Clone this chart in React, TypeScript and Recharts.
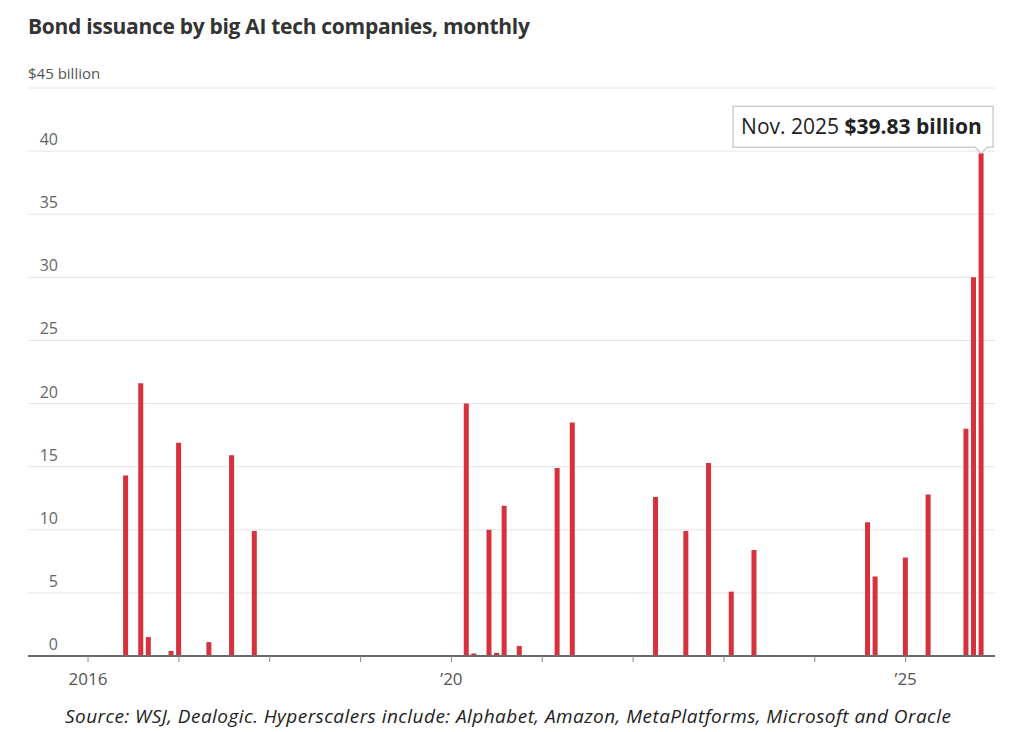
import { BarChart, Bar, XAxis, YAxis, CartesianGrid, LabelList } from "recharts";

// months with any issuance (others are zero)
const issueMonths = [
  "2016-06", "2016-08", "2016-09", "2016-12", "2017-01", "2017-05", "2017-08", "2017-11",
  "2020-03", "2020-04", "2020-06", "2020-07", "2020-08", "2020-10", "2021-03", "2021-05",
  "2022-04", "2022-08", "2022-11", "2023-02", "2023-05",
  "2024-08", "2024-09", "2025-01", "2025-04", "2025-09", "2025-10", "2025-11",
];
const amounts = [
  14.3, 21.6, 1.5, 0.4, 16.9, 1.1, 15.9, 9.9,
  20.0, 0.2, 10.0, 0.25, 11.9, 0.8, 14.9, 18.5,
  12.6, 9.9, 15.3, 5.1, 8.4,
  10.6, 6.3, 7.8, 12.8, 18.0, 30.0, 39.83,
];

const yTicks = [0, 5, 10, 15, 20, 25, 30, 35, 40, 45];
const yearTicks = [0, 12, 24, 36, 48, 60, 72, 84, 96, 108];
const yearLabels: Record<number, string> = { 0: "2016", 48: "\u201920", 108: "\u201925" };
const peakLabel = "Nov. 2025";

const FONT = "'Open Sans', 'Noto Sans', sans-serif";
const RED = "#d7313d";

const monthIndex = (m: string) => {
  const [y, mo] = m.split("-").map(Number);
  return (y - 2016) * 12 + mo - 1;
};

const data = issueMonths.map((m, i) => ({ idx: monthIndex(m), value: amounts[i] }));

function renderYTick(props: any) {
  const { y, payload } = props;
  if (payload.value === 45) {
    return (
      <text x={28} y={y - 9} fill="#555" fontSize={15} fontFamily={FONT}>
        $45 billion
      </text>
    );
  }
  return (
    <text x={58} y={y - 6} textAnchor="end" fill="#666" fontSize={16} fontFamily={FONT}>
      {payload.value}
    </text>
  );
}

function PeakCallout({ x, y, width, value, index }: any) {
  if (index !== data.length - 1) return null;
  const cx = x + width / 2;
  const right = cx + 12;
  const left = right - 260;
  const bottom = y - 6;
  const top = bottom - 41;
  return (
    <g>
      <path
        d={`M${left},${top} H${right} V${bottom} H${cx + 6} L${cx},${y} L${cx - 6},${bottom} H${left} Z`}
        fill="#fff"
        stroke="#cfcfcf"
        strokeWidth={1.5}
      />
      <text x={left + 8} y={bottom - 13} fontSize={21} fontFamily={FONT} fill="#222">
        <tspan>{peakLabel} </tspan>
        <tspan fontWeight={700}>${value.toFixed(2)} billion</tspan>
      </text>
    </g>
  );
}

export default function App() {
  return (
    <div style={{ position: "relative", width: 1024, height: 732, background: "#fff" }}>
      <style>{`body{margin:0}`}</style>
      <div
        style={{
          position: "absolute",
          left: 28,
          top: 12,
          fontFamily: FONT,
          fontWeight: 700,
          fontSize: 21,
          color: "#333",
          letterSpacing: -0.3,
          whiteSpace: "nowrap",
        }}
      >
        Bond issuance by big AI tech companies, monthly
      </div>
      <BarChart
        width={1024}
        height={732}
        data={data}
        margin={{ top: 88, right: 29, bottom: 36, left: 27 }}
      >
        <CartesianGrid horizontal vertical={false} stroke="#e6e6e6" strokeWidth={1} />
        <XAxis
          dataKey="idx"
          type="number"
          domain={[-7.93, 119.8]}
          allowDataOverflow
          ticks={yearTicks}
          tickFormatter={(v: number) => yearLabels[v] ?? ""}
          height={40}
          tickSize={6}
          tickMargin={11}
          axisLine={{ stroke: "#6b6b6b", strokeWidth: 2 }}
          tickLine={{ stroke: "#888" }}
          tick={{ fill: "#555", fontSize: 17, fontFamily: FONT }}
        />
        <YAxis
          type="number"
          domain={[0, 45]}
          ticks={yTicks}
          interval={0}
          width={1}
          axisLine={false}
          tickLine={false}
          tick={renderYTick}
        />
        <Bar dataKey="value" fill={RED} barSize={5} isAnimationActive={false}>
          <LabelList dataKey="value" content={<PeakCallout />} />
        </Bar>
      </BarChart>
      <div
        style={{
          position: "absolute",
          left: 65,
          top: 703,
          fontFamily: FONT,
          fontStyle: "italic",
          fontSize: 19,
          letterSpacing: 0.45,
          color: "#222",
          whiteSpace: "nowrap",
        }}
      >
        Source: WSJ, Dealogic. Hyperscalers include: Alphabet, Amazon, MetaPlatforms, Microsoft and Oracle
      </div>
    </div>
  );
}
